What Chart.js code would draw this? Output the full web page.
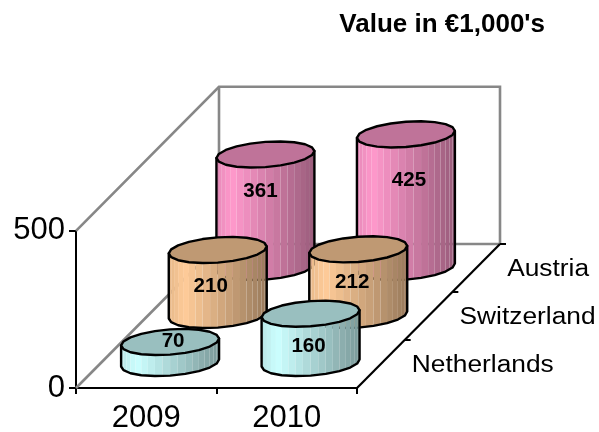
<!DOCTYPE html>
<html><head><meta charset="utf-8">
<style>html,body{margin:0;padding:0;background:#fff}canvas{display:block}</style>
<script src="https://cdn.jsdelivr.net/npm/chart.js@4/dist/chart.umd.min.js"></script>
</head><body><canvas id="c" width="599" height="432"></canvas>
<script>
const categories = ['2009', '2010'];
const depthLabels = ['Netherlands', 'Switzerland', 'Austria'];
const netherlands = [70, 160];
const switzerland = [210, 212];
const austria = [361, 425];
const seriesColors = ['#CCFFFF', '#FFCC99', '#FF99CC'];
const valueAxisMax = 500;
const titleText = "Value in \u20AC1,000's";

// projection and styling of the 3-D box
const DEPTH_X = 143, DEPTH_Y = 144, DEPTH_FILL = 0.545, FACETS = 40;
const WALL = '#878787';
// hand placed label offsets from the middle of each cylinder body, as in the reference
const labelNudge = [[[3, -11], [-2, 8]], [[-7, 4], [-6, 0]], [[-5, -20], [3, -20]]];

function shade(hex, f) {
  const n = parseInt(hex.slice(1), 16);
  return `rgb(${Math.round((n >> 16 & 255) * f)},${Math.round((n >> 8 & 255) * f)},${Math.round((n & 255) * f)})`;
}
function sideShade(u) {
  return u < 0.16 ? 0.9 + 0.1 * u / 0.16 : 1 - 0.4 * (u - 0.16) / 0.84;
}
function drawCylinder(ctx, cx, top, bottom, R, a, b, color) {
  const pt = (t, y) => [cx + R * Math.cos(t) + a * Math.sin(t), y - b * Math.sin(t)];
  const t0 = Math.atan2(a, R), half = Math.hypot(R, a), step = Math.PI / (FACETS / 2);
  for (let k = 0; k < FACETS / 2; k++) {
    const t1 = t0 - Math.PI + k * step, t2 = t1 + step;
    const p1 = pt(t1, bottom), p2 = pt(t2, bottom), p3 = pt(t2, top), p4 = pt(t1, top);
    const u = ((p1[0] + p2[0]) / 2 - (cx - half)) / (2 * half);
    ctx.fillStyle = shade(color, sideShade(u));
    ctx.beginPath(); ctx.moveTo(...p1); ctx.lineTo(...p2); ctx.lineTo(...p3); ctx.lineTo(...p4); ctx.closePath(); ctx.fill();
  }
  ctx.strokeStyle = '#000'; ctx.lineWidth = 2.4; ctx.lineJoin = 'round';
  ctx.beginPath();
  for (let k = 0; k <= FACETS / 2; k += 2) {
    const p = pt(t0 - Math.PI + k * step, bottom);
    k ? ctx.lineTo(...p) : ctx.moveTo(...p);
  }
  ctx.lineTo(...pt(t0, top));
  ctx.lineTo(...pt(t0 - Math.PI, top));
  ctx.closePath(); ctx.stroke();
  ctx.beginPath();
  for (let k = 0; k < FACETS; k += 2) {
    const p = pt(t0 + k * step, top);
    k ? ctx.lineTo(...p) : ctx.moveTo(...p);
  }
  ctx.closePath();
  ctx.fillStyle = shade(color, 0.75); ctx.fill(); ctx.stroke();
}
function stretchedText(ctx, text, x, y, font, sx, align) {
  ctx.save();
  ctx.translate(x, y); ctx.scale(sx, 1);
  ctx.font = font; ctx.fillStyle = '#000'; ctx.textAlign = align; ctx.textBaseline = 'middle';
  ctx.fillText(text, 0, 0);
  ctx.restore();
}
const box3d = {
  id: 'box3d',
  beforeDatasetsDraw(chart) {
    const { ctx, scales: { x, y, z } } = chart;
    const L = x.left, Rt = x.right, T = y.top, B = y.bottom;
    const line = (pts, color, w) => {
      ctx.strokeStyle = color; ctx.lineWidth = w; ctx.lineCap = 'butt'; ctx.lineJoin = 'miter';
      ctx.beginPath(); pts.forEach((p, i) => i ? ctx.lineTo(p[0], p[1]) : ctx.moveTo(p[0], p[1])); ctx.stroke();
    };
    ctx.save();
    line([[L, T], [L + DEPTH_X, T - DEPTH_Y], [Rt + DEPTH_X, T - DEPTH_Y], [Rt + DEPTH_X, B - DEPTH_Y]], WALL, 2.6);
    line([[L + DEPTH_X, T - DEPTH_Y], [L + DEPTH_X, B - DEPTH_Y], [Rt + DEPTH_X, B - DEPTH_Y]], WALL, 2.6);
    line([[L, B], [L + DEPTH_X, B - DEPTH_Y]], WALL, 2.6);
    line([[Rt, B], [Rt + DEPTH_X, B - DEPTH_Y]], '#000', 2.2);
    [1 / 3, 2 / 3, 1].forEach(f => {
      const px = Rt + DEPTH_X * f, py = B - DEPTH_Y * f;
      line([[px, py], [px + 6, py]], '#000', 2);
    });
    depthLabels.forEach((label, i) => {
      const f = (z.bottom - z.getPixelForValue(i)) / z.height;
      stretchedText(ctx, label, Rt + DEPTH_X * f + 31, B - DEPTH_Y * f + 2, '23.5px "Liberation Sans"', 1.12, 'left');
    });
    const catDepth = DEPTH_Y / z.getLabels().length;
    for (let di = chart.data.datasets.length - 1; di >= 0; di--) {
      const meta = chart.getDatasetMeta(di);
      const f = (z.bottom - z.getPixelForValue(di)) / z.height;
      meta.data.forEach((bar) => {
        const p = bar.getProps(['x', 'y', 'base', 'width'], true);
        const b = catDepth * DEPTH_FILL / 2;
        drawCylinder(ctx, p.x + DEPTH_X * f, p.y - DEPTH_Y * f, p.base - DEPTH_Y * f, p.width / 2, b, b, chart.data.datasets[di].backgroundColor);
      });
    }
    for (let di = chart.data.datasets.length - 1; di >= 0; di--) {
      const meta = chart.getDatasetMeta(di);
      const f = (z.bottom - z.getPixelForValue(di)) / z.height;
      meta.data.forEach((bar, i) => {
        const p = bar.getProps(['x', 'y', 'base'], true);
        const n = labelNudge[di][i];
        stretchedText(ctx, String(chart.data.datasets[di].data[i]), p.x + DEPTH_X * f + n[0],
          (p.y + p.base) / 2 - DEPTH_Y * f + n[1], 'bold 21px "Liberation Sans"', 0.98, 'center');
      });
    }
    ctx.restore();
    return false; // the cylinders replace the default flat bars
  }
};
new Chart(document.getElementById('c'), {
  type: 'bar',
  data: {
    labels: categories,
    datasets: [
      { label: depthLabels[0], data: netherlands, backgroundColor: seriesColors[0] },
      { label: depthLabels[1], data: switzerland, backgroundColor: seriesColors[1] },
      { label: depthLabels[2], data: austria, backgroundColor: seriesColors[2] }
    ]
  },
  options: {
    responsive: false, animation: false,
    layout: { padding: { left: 0, top: 0, bottom: 0, right: 54 } },
    datasets: { bar: { grouped: false, barPercentage: 0.672, categoryPercentage: 1 } },
    plugins: {
      legend: { display: false }, tooltip: { enabled: false },
      title: {
        display: true, text: titleText, align: 'end', color: '#000',
        font: { family: '"Liberation Sans"', size: 26, weight: 'bold' },
        padding: { top: 9, bottom: 190.6 }
      }
    },
    scales: {
      x: {
        type: 'category', position: 'bottom', offset: true,
        afterFit(s) { s.height = 44; },
        border: { display: true, color: '#000', width: 2 },
        grid: { offset: true, drawOnChartArea: false, drawTicks: true, color: '#000', lineWidth: 2, tickLength: 6 },
        ticks: { color: '#000', padding: 6, maxRotation: 0, font: { family: '"Liberation Sans"', size: 31 } }
      },
      y: {
        type: 'linear', position: 'left', min: 0, max: valueAxisMax,
        afterFit(s) { s.width = 76; },
        border: { display: true, color: '#000', width: 2 },
        grid: { drawOnChartArea: false, drawTicks: true, color: '#000', lineWidth: 2, tickLength: 7 },
        ticks: { color: '#000', stepSize: valueAxisMax, padding: 4, font: { family: '"Liberation Sans"', size: 31 } }
      },
      z: {
        type: 'category', axis: 'y', position: 'right', labels: depthLabels, reverse: true, offset: true,
        afterFit(s) { s.width = 188; },
        border: { display: false }, grid: { display: false }, ticks: { display: false }
      }
    }
  },
  plugins: [box3d]
});
</script></body></html>
